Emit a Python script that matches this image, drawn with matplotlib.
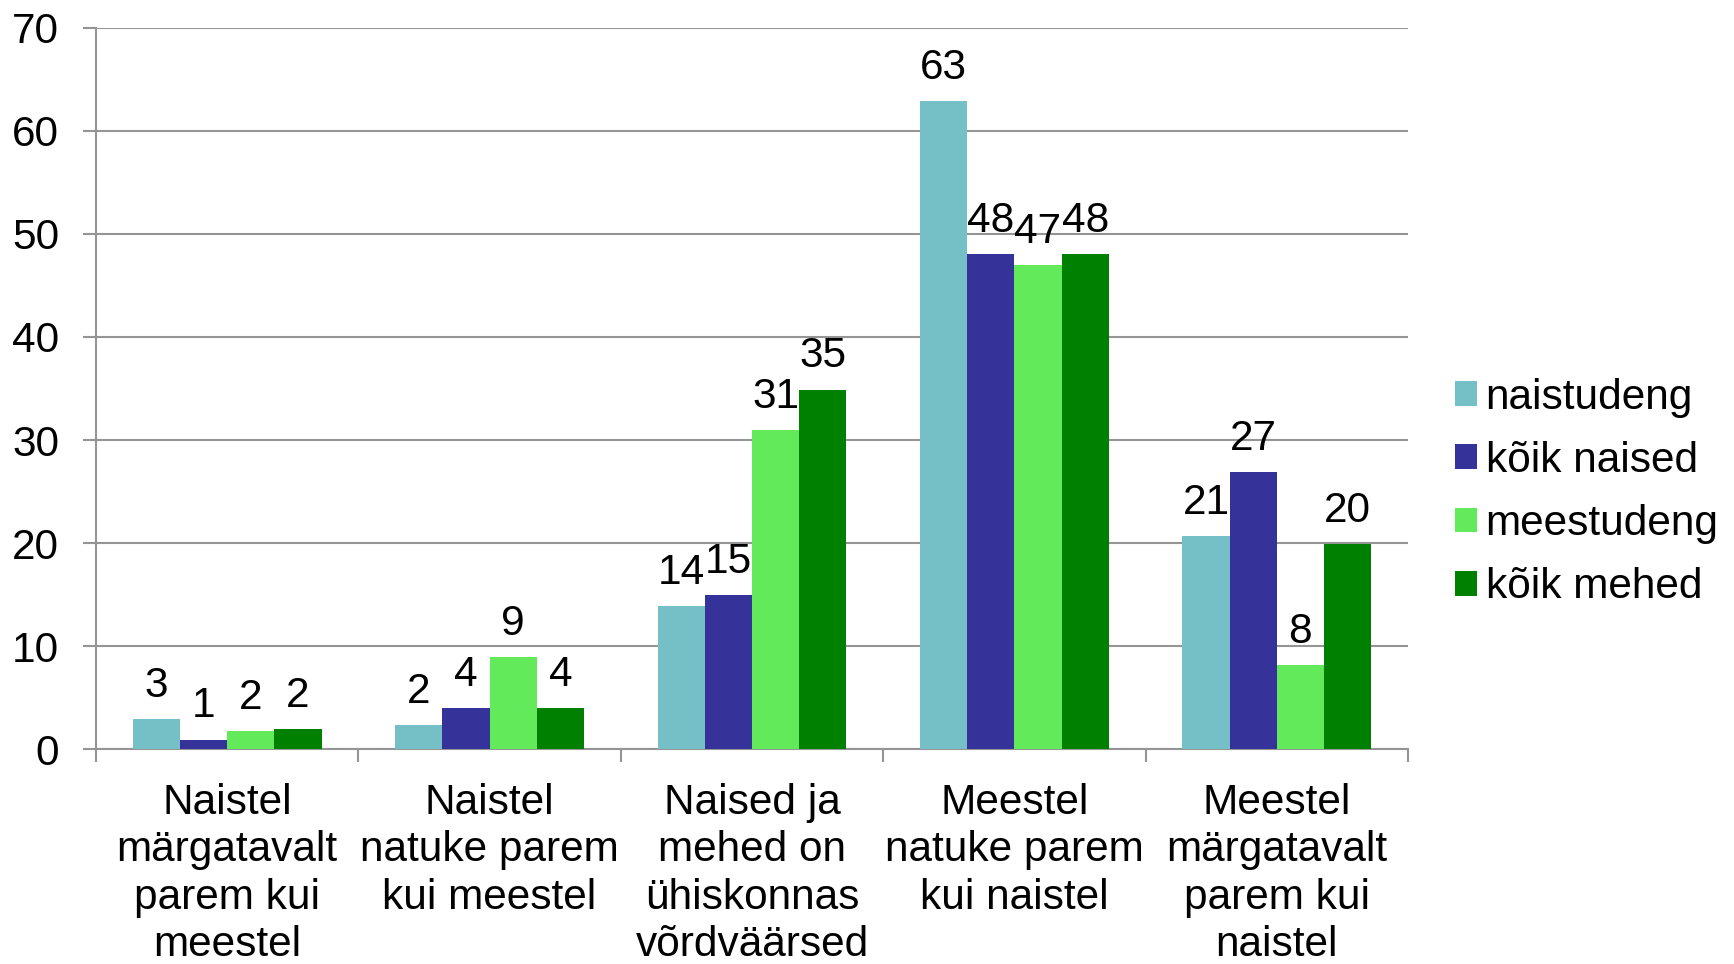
import matplotlib
matplotlib.use("Agg")
import matplotlib.pyplot as plt
import numpy as np

plt.rcParams['font.family'] = ['Liberation Sans', 'DejaVu Sans']

categories = [
    "Naistel\nmärgatavalt\nparem kui\nmeestel",
    "Naistel\nnatuke parem\nkui meestel",
    "Naised ja\nmehed on\nühiskonnas\nvõrdväärsed",
    "Meestel\nnatuke parem\nkui naistel",
    "Meestel\nmärgatavalt\nparem kui\nnaistel",
]
series_names = ["naistudeng", "kõik naised", "meestudeng", "kõik mehed"]
naistudeng = [2.94, 2.36, 13.9, 62.85, 20.66]
koik_naised = [0.93, 3.97, 14.97, 48.0, 26.9]
meestudeng = [1.75, 8.95, 31.0, 47.0, 8.15]
koik_mehed = [1.97, 4.0, 34.9, 48.0, 19.94]
series_values = [naistudeng, koik_naised, meestudeng, koik_mehed]
colors = ["#75BFC6", "#353399", "#63EA5B", "#008000"]
yticks = [0, 10, 20, 30, 40, 50, 60, 70]

FS = 30.5
fig = plt.figure(figsize=(17.34, 9.64), dpi=100)
ax = fig.add_axes([96/1734, 1-749.3/964, (1408-96)/1734, (749.3-27.7)/964])

n = len(categories)
x = np.arange(n)
group_w = 0.72
bw = group_w / 4
for i, (name, vals, c) in enumerate(zip(series_names, series_values, colors)):
    pos = x - group_w/2 + bw*(i + 0.5)
    ax.bar(pos, vals, width=bw, color=c, label=name, zorder=3, linewidth=0)
    for p, v in zip(pos, vals):
        ax.annotate(f"{v:.0f}", xy=(p, v), xytext=(0, 16), textcoords="offset points",
                    ha="center", va="baseline", fontsize=FS, zorder=4)

ax.set_xlim(-0.5, n - 0.5)
ax.set_ylim(0, 70)
ax.set_yticks(yticks)
ax.set_yticklabels([str(t) for t in yticks])
ax.yaxis.grid(True, color="#959595", linewidth=1.5, zorder=0)
ax.set_axisbelow(True)

# x ticks: boundaries as major (no labels), centers as minor with labels
ax.set_xticks(np.arange(-0.5, n, 1.0))
ax.set_xticklabels([])
ax.set_xticks(x, minor=True)
ax.set_xticklabels(categories, minor=True, fontsize=FS, linespacing=1.24, va="top")
ax.tick_params(axis="x", which="major", direction="out", length=9.4, width=1.5, color="#959595")
ax.tick_params(axis="x", which="minor", length=0, pad=24)
ax.tick_params(axis="y", direction="out", length=9.4, width=1.5, color="#959595",
               labelsize=FS, pad=17)

for s in ["top", "right"]:
    ax.spines[s].set_visible(False)
for s in ["left", "bottom"]:
    ax.spines[s].set_color("#959595")
    ax.spines[s].set_linewidth(1.5)

leg = fig.legend(loc="center left", bbox_to_anchor=(1455/1734, 1-492.5/964),
                 frameon=False, fontsize=FS, handlelength=0.52, handleheight=0.52,
                 handletextpad=0.2, labelspacing=0.55, borderpad=0, borderaxespad=0)

fig.savefig("out.png", dpi=100)
